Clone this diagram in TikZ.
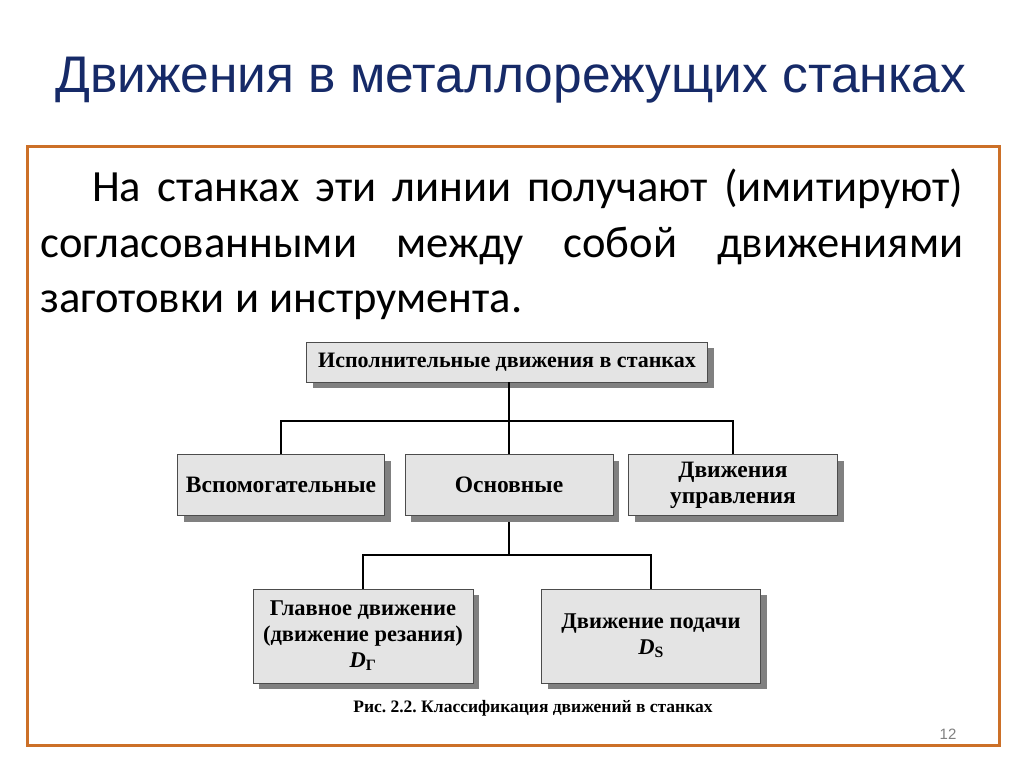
\documentclass[tikz,border=0pt]{standalone}
\usepackage{fontspec}
\setmainfont{Liberation Serif}
\newfontfamily\titlefont{Liberation Sans}
\newfontfamily\bodyfont{Carlito}
\usetikzlibrary{positioning, shadows}
\definecolor{titleblue}{RGB}{22,42,104}
\definecolor{frameorange}{RGB}{204,112,40}
\definecolor{boxgray}{RGB}{228,228,228}
\frenchspacing

\begin{document}
\begin{tikzpicture}[x=1pt,y=-1pt,
  box/.style={draw=black!70, line width=0.8pt, fill=boxgray, inner sep=0pt, align=center,
    font=\bfseries\fontsize{22.5}{26}\selectfont,
    drop shadow={shadow xshift=6pt, shadow yshift=-6pt, fill=black!50, opacity=1}},
  conn/.style={line width=2.8pt, black},
  txt/.style={inner sep=0pt, anchor=base west, font=\bodyfont\fontsize{44.6}{50}\selectfont}]
\useasboundingbox (0,0) rectangle (1024,767);
\fill[white] (0,0) rectangle (1024,767);

\node[anchor=base west, inner sep=0pt, text=titleblue, font=\titlefont\fontsize{51.5}{60}\selectfont]
  (title) at (55,93) {Движения в металлорежущих станках};
\draw[frameorange, line width=3pt] (27,147) rectangle (999,745);

\node[txt] (line1) at (92,202) {\makebox[871pt][s]{На станках эти линии получают (имитируют)}};
\node[txt] (line2) at (40,258) {\makebox[923pt][s]{согласованными между собой движениями}};
\node[txt] (line3) at (40,312) {заготовки и инструмента.};

% classification tree
\node[box, minimum width=401pt, minimum height=40pt, font=\bfseries\fontsize{22}{24}\selectfont] (top) at (507,362) {Исполнительные движения в станках};
\node[box, minimum width=207pt, minimum height=61pt, font=\bfseries\fontsize{23.5}{26}\selectfont] (aux) at (281,485) {Вспомогательные};
\node[box, minimum width=208pt, minimum height=61pt, font=\bfseries\fontsize{23.5}{26}\selectfont] (main) at (509,485) {Основные};
\node[box, minimum width=209pt, minimum height=61pt, font=\bfseries\fontsize{23.5}{26}\selectfont] (ctrl) at (733,485) {Движения\\управления};
\node[box, minimum width=220pt, minimum height=94pt] (cut) at (363,636)
  {Главное движение\\(движение резания)\\\textit{D}\textsubscript{Г}};
\node[box, minimum width=219pt, minimum height=94pt] (feed) at (651,636)
  {Движение подачи\\\textit{D}\textsubscript{S}};

\coordinate (bus1) at (509,421);
\coordinate (bus2) at (509,555);
\draw[conn] (bus1 |- top.south) -- (bus1);
\draw[conn] (aux.north) |- (bus1) -| (ctrl.north);
\draw[conn] (bus1) -- (main.north);
\draw[conn] ([yshift=-6pt]main.south) -- (bus2);
\draw[conn] (cut.north) |- (bus2) -| (feed.north);

\node[anchor=base, inner sep=0pt, font=\bfseries\fontsize{17.5}{19}\selectfont] (caption) at (533,712)
  {Рис. 2.2. Классификация движений в станках};
\node[anchor=base, inner sep=0pt, text=black!50, font=\titlefont\fontsize{15}{17}\selectfont] (pagenum) at (948,739) {12};
\end{tikzpicture}
\end{document}
